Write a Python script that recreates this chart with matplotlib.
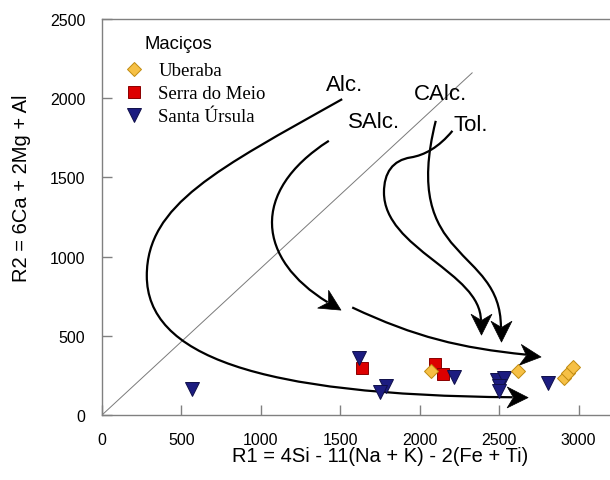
import numpy as np
import matplotlib
matplotlib.use('Agg')
import matplotlib.pyplot as plt
from matplotlib.path import Path
from matplotlib.patches import PathPatch
from matplotlib.markers import MarkerStyle
from matplotlib.transforms import Affine2D

# ---- data ----
uberaba_r1 = [2069, 2616, 2911, 2936, 2963]
uberaba_r2 = [276, 280, 231, 263, 301]

serra_r1 = [1638, 2097, 2149]
serra_r2 = [295, 322, 259]

ursula_r1 = [568, 1617, 1790, 1750, 2217, 2486, 2528, 2500, 2500, 2810]
ursula_r2 = [164, 360, 185, 143, 238, 223, 232, 185, 153, 202]

xticks = [0, 500, 1000, 1500, 2000, 2500, 3000]
yticks = [0, 500, 1000, 1500, 2000, 2500]

# reference line
diag_x = [0, 2330]
diag_y = [0, 2160]

# trend curves as cubic bezier control points (each chunk of 4 = one segment)
alc_curve = [(1512, 1994), (729, 1553), (282, 1329), (282, 879),
             (282, 879), (282, 379), (969, 125), (2585, 112)]
salc_curve = [(1428, 1731), (924, 1407), (981, 981), (1420, 712)]
salc2_curve = [(1575, 679), (1975, 491), (2253, 424), (2670, 381)]
calc_curve = [(2101, 1857), (1876, 957), (2511, 1069), (2511, 555)]
tol_curve = [(2206, 1794), (2120, 1690), (2030, 1640), (1943, 1626),
             (1943, 1626), (1830, 1608), (1775, 1530), (1775, 1405),
             (1775, 1405), (1775, 1050), (2385, 900), (2385, 597)]

labels = ['Alc.', 'SAlc.', 'CAlc.', 'Tol.']
label_x = [1527, 1712, 2132, 2322]
label_y = [2087, 1855, 2029, 1837]

plt.rcParams['font.family'] = ['Liberation Sans', 'DejaVu Sans']

fig = plt.figure(figsize=(6.10, 4.81), dpi=100)
ax = fig.add_axes([102/610, 65/481, 556/610, 396/481])
ax.set_xlim(0, 3500)
ax.set_ylim(0, 2500)

grey = '#808080'
for s in ax.spines.values():
    s.set_color(grey)
    s.set_linewidth(1.0)
ax.tick_params(direction='in', length=7, width=1, color=grey, labelsize=11.5)
ax.tick_params(axis='x', pad=12.5)
ax.tick_params(axis='y', pad=12)
ax.set_xticks(xticks)
ax.set_yticks(yticks)

ax.plot(diag_x, diag_y, color='#7a7a7a', lw=0.7, zorder=1)

# arrow head marker: notch at origin, tip pointing +x
head = Path([(0.7, 0), (-0.3, 0.5), (0, 0), (-0.3, -0.5), (0.7, 0)],
            [Path.MOVETO, Path.LINETO, Path.LINETO, Path.LINETO, Path.CLOSEPOLY])

def draw_curve(pts):
    pts = np.array(pts, dtype=float)
    verts, codes = [], []
    for i in range(0, len(pts), 4):
        seg = pts[i:i+4]
        if i == 0:
            verts.append(seg[0]); codes.append(Path.MOVETO)
        verts += list(seg[1:]); codes += [Path.CURVE4]*3
    ax.add_patch(PathPatch(Path(verts, codes), fill=False, ec='black',
                           lw=1.6, transform=ax.transData, zorder=2))
    d = pts[-1] - pts[-2]
    ang = np.degrees(np.arctan2(d[1], d[0]))
    m = MarkerStyle(head, transform=Affine2D().rotate_deg(ang))
    ax.plot([pts[-1][0]], [pts[-1][1]], marker=m, ms=21, color='black',
            mec='black', mew=0.5, ls='none', zorder=2)

for c in [alc_curve, salc_curve, salc2_curve, calc_curve, tol_curve]:
    draw_curve(c)

for t, x, y in zip(labels, label_x, label_y):
    ax.text(x, y, t, fontsize=16, ha='center', va='center', zorder=3)

h_serra, = ax.plot(serra_r1, serra_r2, 's', ms=8.5, mfc='#dd0000',
                   mec='#8a0000', mew=0.7, ls='none', zorder=3)
h_urs, = ax.plot(ursula_r1, ursula_r2, 'v', ms=9.5, mfc='#1c1c80',
                 mec='#10104a', mew=0.7, ls='none', zorder=4)
h_ub, = ax.plot(uberaba_r1, uberaba_r2, 'D', ms=6.8, mfc='#f6c045',
                mec='#c08a10', mew=0.7, ls='none', zorder=5)

ax.legend([h_ub, h_serra, h_urs], ['Uberaba', 'Serra do Meio', 'Santa Úrsula'],
          loc='upper left', bbox_to_anchor=(0.0406, 0.891), frameon=False,
          borderpad=0, borderaxespad=0, handlelength=1.0, handletextpad=0.8,
          labelspacing=0.31,
          prop={'family': ['Liberation Serif', 'DejaVu Serif'], 'size': 13.5})
ax.text(0.0773, 0.937, 'Maciços', transform=ax.transAxes, fontsize=13.3,
        ha='left', va='center')

ax.set_xlabel('R1 = 4Si - 11(Na + K) - 2(Fe + Ti)', fontsize=14.5, va='center')
ax.xaxis.set_label_coords(0.5, -0.103)
ax.set_ylabel('R2 = 6Ca + 2Mg + Al', fontsize=14.5, va='center')
ax.yaxis.set_label_coords(-0.144, 0.576)

fig.savefig('out.png', dpi=100)
